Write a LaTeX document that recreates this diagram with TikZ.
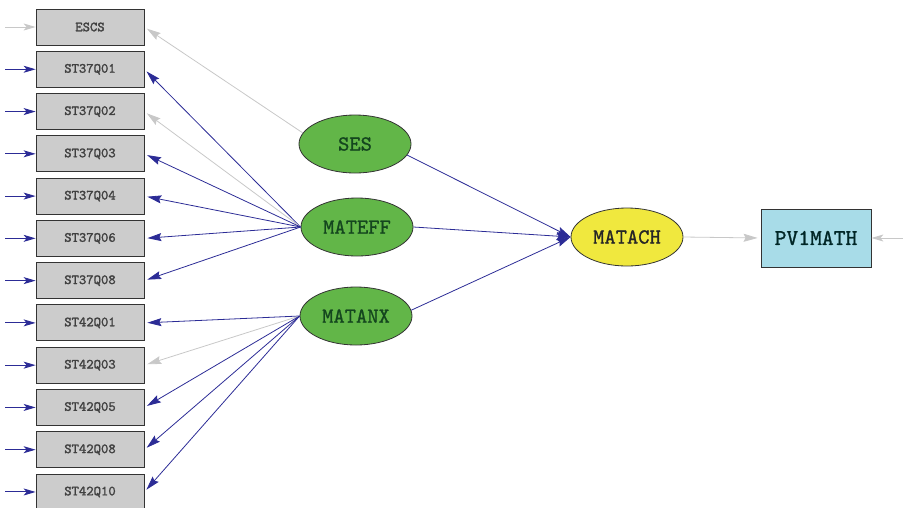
\documentclass[tikz,border=0pt]{standalone}
\usepackage{fontspec}
\newfontfamily\boxfont{lmmono10-regular.otf}[FakeBold=1.6]
\newfontfamily\latfont{lmmono10-regular.otf}[FakeBold=1.0]
\usetikzlibrary{arrows.meta,shapes.geometric}
\definecolor{boxgray}{RGB}{204,204,204}
\definecolor{latgreen}{RGB}{98,182,72}
\definecolor{txtgreen}{RGB}{20,70,30}
\definecolor{latyellow}{RGB}{240,232,62}
\definecolor{obscyan}{RGB}{168,220,232}
\definecolor{pathblue}{RGB}{44,44,150}
\definecolor{pathgray}{RGB}{200,200,200}
\tikzset{
  obsbox/.style={draw=black!80,line width=0.8pt,fill=boxgray,minimum width=108pt,minimum height=36pt,inner sep=0pt,font=\boxfont\fontsize{14}{14}\selectfont,text=black!75},
  latent/.style={ellipse,draw=black!80,line width=0.8pt,fill=latgreen,minimum width=112pt,minimum height=58pt,inner sep=0pt,font=\latfont\fontsize{21.5}{21.5}\selectfont,text=txtgreen},
  bluearr/.style={draw=pathblue,line width=0.8pt,-{Stealth[length=14pt,width=8pt,inset=2pt]}},
  grayarr/.style={draw=pathgray,line width=0.8pt,-{Stealth[length=14pt,width=8pt,inset=2pt]}},
  errblue/.style={draw=pathblue,line width=1pt,-{Stealth[length=12pt,width=7pt,inset=3pt]}},
  errgray/.style={draw=pathgray,line width=1pt,-{Stealth[length=12pt,width=7pt,inset=3pt]}}
}
\begin{document}
\begin{tikzpicture}[x=1pt,y=-1pt]
\useasboundingbox (0,0) rectangle (903,507);
% observed boxes
\foreach \nm/\lab/\i in {escs/ESCS/0,a1/ST37Q01/1,a2/ST37Q02/2,a3/ST37Q03/3,a4/ST37Q04/4,a6/ST37Q06/5,a8/ST37Q08/6,b1/ST42Q01/7,b3/ST42Q03/8,b5/ST42Q05/9,b8/ST42Q08/10,b10/ST42Q10/11}{
  \node[obsbox] (\nm) at (90,27+42.27*\i) {\lab};
  \coordinate (e\nm) at (5,27+42.27*\i);
}
% latent variables
\node[latent] (ses) at (355,144) {SES};
\node[latent] (mateff) at (357,227) {MATEFF};
\node[latent] (matanx) at (356,316) {MATANX};
\node[latent,fill=latyellow,text=black!85] (matach) at (627,237) {MATACH};
\node[draw=black!80,line width=0.8pt,fill=obscyan,minimum width=110pt,minimum height=58pt,inner sep=0pt,font=\latfont\fontsize{22.5}{22.5}\selectfont,text=black!70!teal] (pv) at (816,238) {PV1MATH};
\coordinate (epv) at (903,238);
% error arrows
\draw[errgray] (eescs) -- (escs.west);
\foreach \nm in {a1,a2,a3,a4,a6,a8,b1,b3,b5,b8,b10}{
  \draw[errblue] (e\nm) -- (\nm.west);
}
\draw[errgray] (epv) -- (pv.east);
% loadings
\draw[grayarr,shorten >=3pt] (ses.168) -- (escs.east);
\draw[bluearr,shorten >=3pt] (mateff.west) -- (a1.east);
\draw[grayarr,shorten >=3pt] (mateff.west) -- (a2.east);
\foreach \nm in {a3,a4,a6,a8}{
  \draw[bluearr,shorten >=3pt] (mateff.west) -- (\nm.east);
}
\draw[bluearr,shorten >=3pt] (matanx.west) -- (b1.east);
\draw[grayarr,shorten >=3pt] (matanx.west) -- (b3.east);
\foreach \nm in {b5,b8,b10}{
  \draw[bluearr,shorten >=3pt] (matanx.west) -- (\nm.east);
}
% structural paths
\draw[bluearr] (ses.-12) -- (matach.west);
\draw[bluearr] (mateff.east) -- (matach.west);
\draw[bluearr] (matanx.6) -- (matach.west);
\draw[grayarr,shorten >=3pt] (matach.east) -- (pv.west);
\end{tikzpicture}
\end{document}
